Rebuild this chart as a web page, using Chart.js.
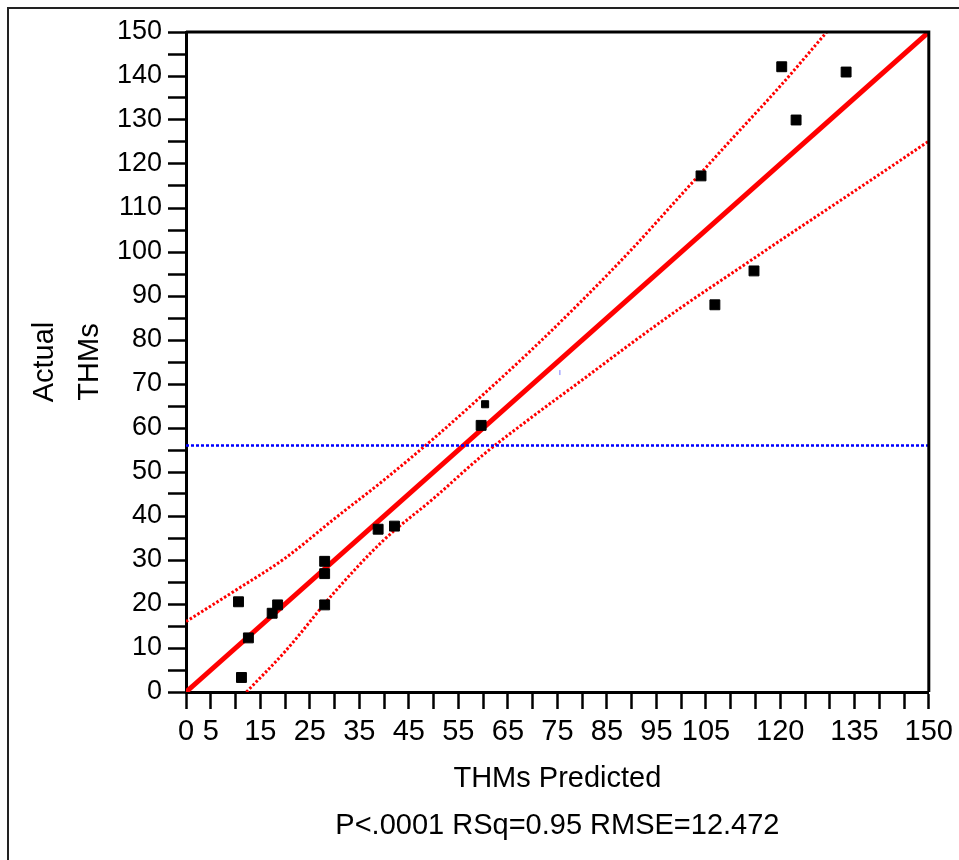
<!DOCTYPE html>
<html>
<head>
<meta charset="utf-8">
<script src="https://cdn.jsdelivr.net/npm/chart.js@4.4.1/dist/chart.umd.min.js"></script>
<style>
  html, body { margin: 0; padding: 0; background: #fff; }
  #wrap { position: relative; width: 959px; height: 860px; }
  canvas { display: block; }
</style>
</head>
<body>
<div id="wrap"><canvas id="c" width="959" height="860"></canvas></div>
<script>
// ---- Data ----
const predictedX = [10.6, 11.2, 12.6, 17.4, 18.5, 28.0, 28.0, 28.0, 38.8, 42.1, 59.6, 60.4, 104.0, 106.8, 114.7, 120.3, 123.2, 133.3];
const actualY    = [20.5, 3.3, 12.3, 17.9, 19.8, 29.7, 26.9, 19.8, 37.0, 37.7, 60.6, 65.4, 117.3, 88.0, 95.7, 142.1, 130.0, 140.9];
const markerSize = [7, 7, 7, 7, 7, 7, 7, 7, 7, 7, 7, 5, 7, 7, 7, 7, 7, 7];

const fitX = [0, 150];
const fitY = [0, 150];

const upperX = [0, 10, 20, 30, 40, 50, 60, 70, 80, 90, 100, 110, 120, 129.4];
const upperY = [16.0, 23.1, 30.4, 39.4, 48.2, 57.6, 67.6, 78.0, 89.0, 100.6, 113.0, 125.4, 137.7, 150];

const lowerX = [12.2, 20, 30, 40, 50, 60, 70, 80, 90, 100, 110, 120, 130, 140, 150];
const lowerY = [0, 9.2, 22.7, 34.6, 44.0, 53.9, 62.6, 70.9, 79.3, 87.4, 95.0, 102.6, 110.1, 117.6, 125.2];

const meanX = [0, 150];
const meanY = [56, 56];

const strayX = [75.5];
const strayY = [72.6];

const xTickLabels = [0, 5, 15, 25, 35, 45, 55, 65, 75, 85, 95, 105, 120, 135, 150];
const yTickLabels = [0, 10, 20, 30, 40, 50, 60, 70, 80, 90, 100, 110, 120, 130, 140, 150];

const xTitle = 'THMs Predicted';
const yTitle = ['Actual', 'THMs'];
const statsText = 'P<.0001 RSq=0.95 RMSE=12.472';

// ---- Build ----
const pts = (xs, ys) => xs.map((x, i) => ({ x: x, y: ys[i] }));
const FONT = "'Liberation Sans', Arial, Helvetica, sans-serif";

const framePlugin = {
  id: 'frame',
  beforeDraw(chart) {
    const ctx = chart.ctx;
    ctx.save();
    ctx.fillStyle = '#fff';
    ctx.fillRect(0, 0, chart.width, chart.height);
    ctx.fillStyle = '#222';
    ctx.fillRect(7, 7, 2, chart.height - 7);
    ctx.fillRect(7, 7, chart.width - 7, 2);
    ctx.restore();
  },
  afterDraw(chart) {
    const a = chart.chartArea;
    const ctx = chart.ctx;
    ctx.save();
    ctx.strokeStyle = '#000';
    ctx.lineWidth = 3;
    ctx.beginPath();
    ctx.moveTo(a.left, a.top);
    ctx.lineTo(a.right, a.top);
    ctx.lineTo(a.right, a.bottom);
    ctx.stroke();
    ctx.restore();
  }
};

new Chart(document.getElementById('c'), {
  type: 'scatter',
  data: {
    datasets: [
      {
        label: 'Actual',
        data: pts(predictedX, actualY),
        pointStyle: 'rect',
        pointRadius: markerSize,
        backgroundColor: '#000',
        borderColor: '#000',
        borderWidth: 1,
        showLine: false
      },
      {
        label: 'stray',
        data: pts(strayX, strayY),
        pointStyle: 'line',
        rotation: 90,
        pointRadius: 2.5,
        borderColor: '#7a7aff',
        borderWidth: 1,
        showLine: false
      },
      {
        label: 'Mean',
        data: pts(meanX, meanY),
        showLine: true,
        pointRadius: 0,
        borderColor: '#0000ff',
        borderWidth: 2.5,
        borderDash: [3, 2]
      },
      {
        label: 'Fit',
        data: pts(fitX, fitY),
        showLine: true,
        pointRadius: 0,
        borderColor: '#ff0000',
        borderWidth: 5
      },
      {
        label: 'Upper',
        data: pts(upperX, upperY),
        showLine: true,
        pointRadius: 0,
        borderColor: '#ff0000',
        borderWidth: 3,
        borderDash: [2.5, 2],
        cubicInterpolationMode: 'monotone'
      },
      {
        label: 'Lower',
        data: pts(lowerX, lowerY),
        showLine: true,
        pointRadius: 0,
        borderColor: '#ff0000',
        borderWidth: 3,
        borderDash: [2.5, 2],
        cubicInterpolationMode: 'monotone'
      }
    ]
  },
  options: {
    responsive: false,
    animation: false,
    devicePixelRatio: 1,
    layout: { padding: { left: 0, top: 32, right: 25, bottom: 0 } },
    plugins: {
      legend: { display: false },
      tooltip: { enabled: false },
      title: { display: false }
    },
    scales: {
      x: {
        type: 'linear',
        min: 0,
        max: 150,
        afterFit(scale) { scale.height = 168; },
        ticks: {
          stepSize: 5,
          autoSkip: false,
          maxRotation: 0,
          minRotation: 0,
          color: '#000',
          padding: 6,
          font: { family: FONT, size: 29, lineHeight: 1.2 },
          callback: (v) => (xTickLabels.includes(v) ? String(v) : '')
        },
        grid: {
          drawOnChartArea: false,
          drawTicks: true,
          tickLength: 17,
          tickWidth: 2.5,
          color: '#000'
        },
        border: { display: true, color: '#000', width: 3 },
        title: {
          display: true,
          text: [xTitle, statsText],
          color: '#000',
          font: { family: FONT, size: 29, lineHeight: 1.62 },
          padding: { top: 0, bottom: 10.5 }
        }
      },
      y: {
        type: 'linear',
        min: 0,
        max: 150,
        afterFit(scale) { scale.width = 186; },
        ticks: {
          stepSize: 5,
          autoSkip: false,
          color: '#000',
          padding: 6,
          font: { family: FONT, size: 27, lineHeight: 1.2 },
          callback: (v) => (yTickLabels.includes(v) ? String(v) : '')
        },
        grid: {
          drawOnChartArea: false,
          drawTicks: true,
          tickLength: 18,
          tickWidth: 2.5,
          color: '#000'
        },
        border: { display: true, color: '#000', width: 3 },
        title: {
          display: true,
          text: yTitle,
          color: '#000',
          font: { family: FONT, size: 29, lineHeight: 1.55 },
          padding: { top: 22.5, bottom: 0 }
        }
      }
    }
  },
  plugins: [framePlugin]
});
</script>
</body>
</html>
